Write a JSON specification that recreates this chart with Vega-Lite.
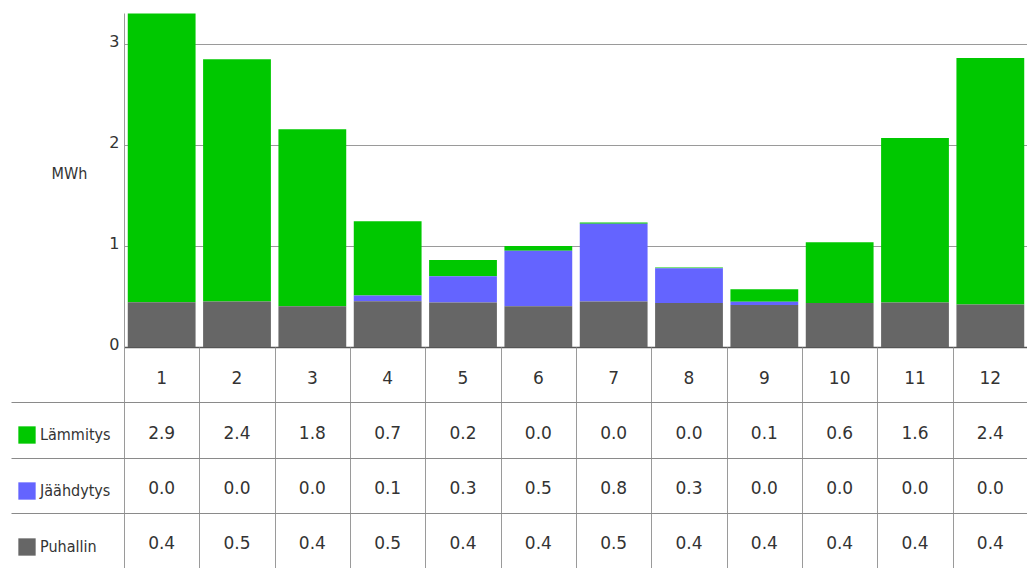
{
  "$schema": "https://vega.github.io/schema/vega-lite/v6.json",
  "background": "white",
  "padding": {"left": 10, "top": 13, "right": 0, "bottom": 0},
  "autosize": {"type": "pad"},
  "config": {"font": "DejaVu Sans Condensed", "view": {"stroke": null}},
  "data": {"values": [
    {"month": 1, "series": "Lämmitys", "value": 2.86},
    {"month": 1, "series": "Jäähdytys", "value": 0},
    {"month": 1, "series": "Puhallin", "value": 0.444},
    {"month": 2, "series": "Lämmitys", "value": 2.40},
    {"month": 2, "series": "Jäähdytys", "value": 0},
    {"month": 2, "series": "Puhallin", "value": 0.451},
    {"month": 3, "series": "Lämmitys", "value": 1.753},
    {"month": 3, "series": "Jäähdytys", "value": 0},
    {"month": 3, "series": "Puhallin", "value": 0.405},
    {"month": 4, "series": "Lämmitys", "value": 0.734},
    {"month": 4, "series": "Jäähdytys", "value": 0.057},
    {"month": 4, "series": "Puhallin", "value": 0.454},
    {"month": 5, "series": "Lämmitys", "value": 0.159},
    {"month": 5, "series": "Jäähdytys", "value": 0.261},
    {"month": 5, "series": "Puhallin", "value": 0.441},
    {"month": 6, "series": "Lämmitys", "value": 0.046},
    {"month": 6, "series": "Jäähdytys", "value": 0.549},
    {"month": 6, "series": "Puhallin", "value": 0.405},
    {"month": 7, "series": "Lämmitys", "value": 0.012},
    {"month": 7, "series": "Jäähdytys", "value": 0.77},
    {"month": 7, "series": "Puhallin", "value": 0.451},
    {"month": 8, "series": "Lämmitys", "value": 0.007},
    {"month": 8, "series": "Jäähdytys", "value": 0.345},
    {"month": 8, "series": "Puhallin", "value": 0.435},
    {"month": 9, "series": "Lämmitys", "value": 0.125},
    {"month": 9, "series": "Jäähdytys", "value": 0.033},
    {"month": 9, "series": "Puhallin", "value": 0.415},
    {"month": 10, "series": "Lämmitys", "value": 0.602},
    {"month": 10, "series": "Jäähdytys", "value": 0},
    {"month": 10, "series": "Puhallin", "value": 0.435},
    {"month": 11, "series": "Lämmitys", "value": 1.631},
    {"month": 11, "series": "Jäähdytys", "value": 0},
    {"month": 11, "series": "Puhallin", "value": 0.441},
    {"month": 12, "series": "Lämmitys", "value": 2.443},
    {"month": 12, "series": "Jäähdytys", "value": 0},
    {"month": 12, "series": "Puhallin", "value": 0.422}
  ]},
  "bounds": "flush",
  "spacing": 0,
  "resolve": {"scale": {"x": "independent", "y": "independent"}},
  "vconcat": [
    {
      "width": 904,
      "height": 334,
      "transform": [
        {"calculate": "datum.series == 'Puhallin' ? 0 : (datum.series == 'Jäähdytys' ? 1 : 2)", "as": "stackOrder"}
      ],
      "mark": {"type": "bar"},
      "encoding": {
        "x": {
          "field": "month", "type": "ordinal",
          "scale": {"paddingInner": 0.1, "paddingOuter": 0.05},
          "axis": {"labels": false, "ticks": false, "title": null, "grid": false, "domainColor": "#555555", "domainWidth": 1.5}
        },
        "y": {
          "field": "value", "type": "quantitative", "stack": "zero",
          "scale": {"domain": [0, 3.31], "nice": false},
          "axis": {
            "values": [0, 1, 2, 3], "ticks": false, "grid": true, "gridColor": "#9a9a9a",
            "domainColor": "#9a9a9a", "labelFontSize": 16, "labelColor": "#333333", "labelPadding": 5,
            "labelOffset": -3, "labelFont": "DejaVu Sans",
            "title": "MWh", "titleAngle": 0, "titleX": -55, "titleY": 160, "titleAlign": "center",
            "titleBaseline": "middle", "titleFontWeight": "normal", "titleFontSize": 16, "titleColor": "#333333",
            "titleFont": "DejaVu Sans Condensed"
          }
        },
        "color": {
          "field": "series", "type": "nominal",
          "scale": {"domain": ["Lämmitys", "Jäähdytys", "Puhallin"], "range": ["#00c800", "#6464ff", "#666666"]},
          "legend": {
            "orient": "none", "legendX": -106, "legendY": 413, "direction": "vertical", "title": null,
            "symbolType": "square", "symbolSize": 300, "symbolStrokeWidth": 0, "symbolOpacity": 1,
            "labelFontSize": 16, "labelColor": "#333333", "labelOffset": 4, "rowPadding": 38, "padding": 0,
            "labelFont": "DejaVu Sans Condensed"
          }
        },
        "order": {"field": "stackOrder", "type": "quantitative"}
      }
    },
    {
      "width": 904,
      "height": 221,
      "encoding": {
        "x": {
          "field": "month", "type": "ordinal",
          "scale": {"paddingInner": 0, "paddingOuter": 0},
          "axis": {"labels": false, "ticks": false, "domain": false, "title": null, "grid": true, "tickBand": "extent", "gridColor": "#9a9a9a"}
        },
        "y": {
          "field": "series", "type": "nominal",
          "scale": {"domain": ["header", "Lämmitys", "Jäähdytys", "Puhallin"], "paddingInner": 0, "paddingOuter": 0},
          "axis": {
            "labels": false, "ticks": true, "tickSize": 113, "domain": false, "title": null, "grid": true, "tickBand": "extent",
            "tickColor": {"condition": {"test": "datum.extra != null || datum.index < 0", "value": "transparent"}, "value": "#8a8a8a"},
            "gridColor": {"condition": {"test": "datum.extra != null || datum.index < 0", "value": "transparent"}, "value": "#8a8a8a"}
          }
        }
      },
      "layer": [
        {
          "mark": {"type": "text", "fontSize": 17, "color": "#333333", "baseline": "middle", "dy": 4, "font": "DejaVu Sans"},
          "encoding": {"text": {"field": "value", "type": "quantitative", "format": ".1f"}}
        },
        {
          "transform": [{"filter": "datum.series == 'Puhallin'"}],
          "mark": {"type": "text", "fontSize": 17, "color": "#333333", "baseline": "middle", "dy": 4, "font": "DejaVu Sans"},
          "encoding": {
            "y": {"datum": "header", "type": "nominal"},
            "text": {"field": "month", "type": "ordinal"}
          }
        }
      ]
    }
  ]
}
